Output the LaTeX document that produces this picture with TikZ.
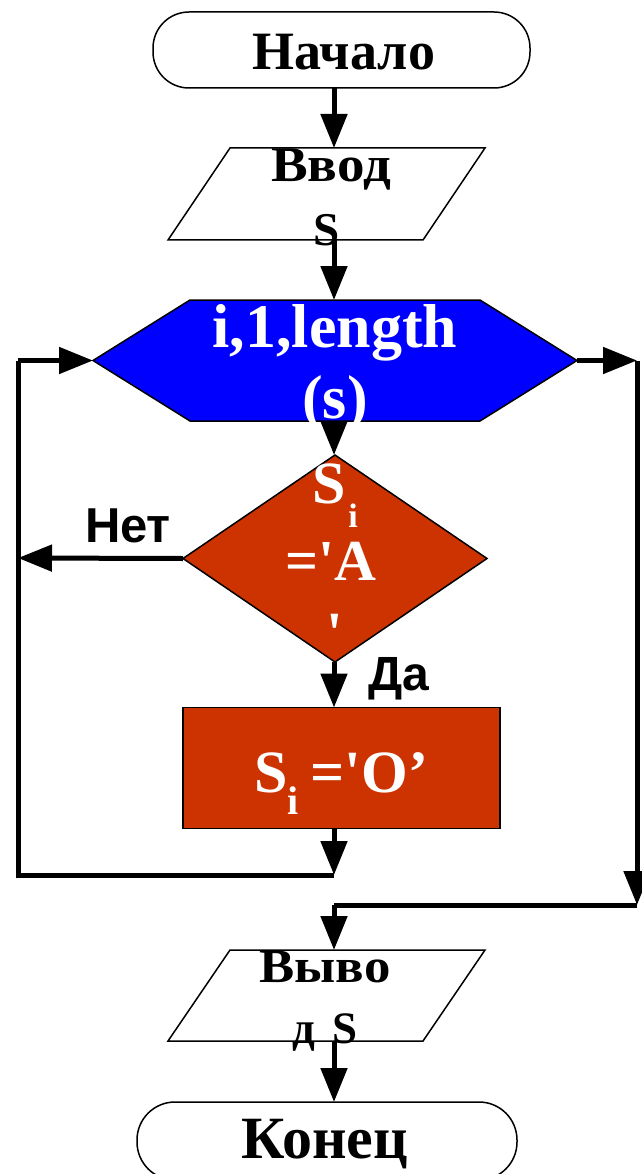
\documentclass[tikz,border=0pt]{standalone}
\usepackage{fontspec}
\setmainfont{Liberation Serif}
\newfontfamily\tms{Liberation Serif}
\newfontfamily\tmsv[FakeStretch=1.1]{Liberation Serif}
\newfontfamily\ars{Liberation Sans}
\usetikzlibrary{arrows.meta,shapes.geometric}
\definecolor{hexblue}{HTML}{0000FF}
\definecolor{brick}{HTML}{CC3300}
\tikzset{
  shapeline/.style={draw=black, line width=1.5pt, outer sep=0pt, inner sep=0pt},
  conn/.style={line width=5pt, -{Triangle[length=34pt,width=26pt]}},
  plainline/.style={line width=5pt, line join=miter},
  lbl/.style={inner sep=0pt, outer sep=0pt, anchor=base},
  lblw/.style={inner sep=0pt, outer sep=0pt, anchor=base west},
  frame/.style={rectangle, inner sep=0pt, outer sep=0pt},
  term/.style={shapeline, rectangle, fill=white},
}
\newcommand{\fs}[1]{\fontsize{#1pt}{#1pt}\selectfont}
\newcommand{\paraof}[1]{%
  \path[shapeline, fill=white] ([xshift=62pt]#1.north west) -- (#1.north east)
    -- ([xshift=-62pt]#1.south east) -- (#1.south west) -- cycle;}
\begin{document}
\begin{tikzpicture}[x=1pt,y=-1pt]
\fill[white] (0,0) rectangle (641,1174);
\useasboundingbox (0,0) rectangle (641,1174);
\coordinate (axis) at (334,0);
% shapes
\node[term, rounded corners=36pt, minimum width=377pt, minimum height=76pt] (start) at (341.5,50) {};
\node[frame, minimum width=317pt, minimum height=92pt] (input) at (326.5,194) {};
\paraof{input}
\node[frame, minimum width=484pt, minimum height=121pt] (loop) at (335,360.5) {};
\path[shapeline, fill=hexblue] (loop.west) -- ([xshift=97pt]loop.north west) -- ([xshift=-97pt]loop.north east)
  -- (loop.east) -- ([xshift=-97pt]loop.south east) -- ([xshift=97pt]loop.south west) -- cycle;
\node[shapeline, diamond, fill=brick, minimum width=304pt, minimum height=207pt] (cond) at (335,558.5) {};
\node[shapeline, rectangle, fill=brick, minimum width=317pt, minimum height=121pt] (act) at (341.5,768) {};
\node[frame, minimum width=317pt, minimum height=91pt] (output) at (326.5,995.5) {};
\paraof{output}
\node[term, rounded corners=38pt, minimum width=380pt, minimum height=78pt] (stop) at (327,1141) {};
% texts
\node[lbl, font={\tms\bfseries\fs{54}}] (startt) at (344,70) {Начало};
\node[lbl, font={\tmsv\bfseries\fs{50}}] (inputt1) at (331,182) {Ввод};
\node[lbl, font={\tms\bfseries\fs{47}}] (inputt2) at (326.5,246) {S};
\node[lbl, text=white, font={\tms\bfseries\fs{62}}] (loopt1) at (335,347) {i,1,length};
\node[lbl, text=white, font={\tms\bfseries\fs{62}}] (loopt2) at (335,418) {(s)};
\node[lblw, text=white, font={\tms\bfseries\fs{60}}] (condt1) at (312,503) {S\hspace{3pt}\raisebox{-24pt}{\fs{34}i}};
\node[lblw, text=white, font={\tms\bfseries\fs{58}}] (condt2) at (285,580) {='A};
\node[lbl, text=white, font={\tms\bfseries\fs{60}}] (condt3) at (335,653) {'};
\node[lblw, text=white, font={\tms\bfseries\fs{60}}] (actt) at (254,792) {S\raisebox{-22pt}{\fs{40}i}\hspace{12pt}='O’};
\node[lbl, font={\ars\bfseries\fs{49}}] (no) at (128,542) {Нет};
\node[lblw, font={\ars\bfseries\fs{48}}] (yes) at (368,690) {Да};
\node[lbl, font={\tmsv\bfseries\fs{48}}] (outputt1) at (325,982) {Выво};
\node[lblw, font={\tms\bfseries\fs{45}}] (outputt2) at (292,1043) {д\hspace{18pt}S};
\node[lbl, font={\tms\bfseries\fs{60}}] (stopt) at (325,1158) {Конец};
% junction points
\coordinate (nl) at (18,558);
\coordinate (lt) at (18,360.5);
\coordinate (lb) at (18,875);
\coordinate (jb) at (334,875);
\coordinate (rt) at (637,360.5);
\coordinate (rb) at (637,905);
\coordinate (jo) at (334,905);
% connectors
\draw[conn] (start.south -| axis) -- (input.north -| axis);
\draw[conn] (input.south -| axis) -- (loop.north -| axis);
\draw[conn] (loop.south -| axis) -- (cond.north -| axis);
\draw[conn] (cond.south -| axis) -- (act.north -| axis);
\draw[conn] (cond.west) -- (nl);
\draw[conn] (act.south -| axis) -- (jb);
\draw[plainline] (jb) -- (lb) -- (lt);
\draw[conn] (lt) -- (loop.west);
\draw[conn] (loop.east) -- (rt);
\draw[conn] (rt) -- (rb);
\draw[plainline] (rb) -- (jo);
\draw[conn] (jo) -- (output.north -| axis);
\draw[conn] (output.south -| axis) -- (stop.north -| axis);
\end{tikzpicture}
\end{document}
